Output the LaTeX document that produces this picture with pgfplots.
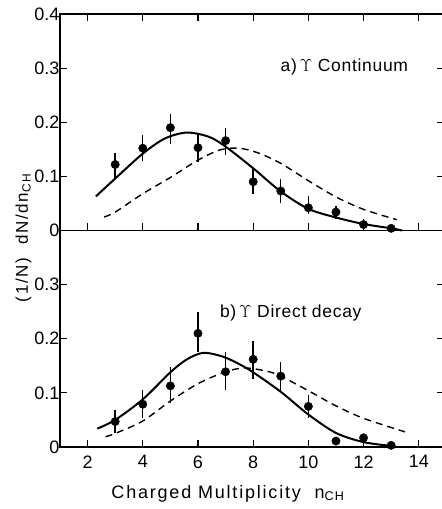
\documentclass[border=0pt]{standalone}
\usepackage{fontspec}
\setmainfont{Liberation Sans}
\usepackage{pgfplots}
\pgfplotsset{compat=1.18}

\pgfplotstableread{
x y ep em
3 0.122 0.022 0.026
4 0.152 0.025 0.024
5 0.190 0.026 0.030
6 0.153 0.026 0.027
7 0.166 0.024 0.026
8 0.090 0.024 0.022
9 0.073 0.023 0.023
10 0.042 0.021 0.012
11 0.034 0.012 0.012
12 0.011 0.011 0.007
13 0.004 0 0
}\contdata

\pgfplotstableread{
x y ep em
3 0.047 0.022 0.021
4 0.079 0.027 0.025
5 0.113 0.034 0.031
6 0.210 0.040 0.035
7 0.139 0.036 0.033
8 0.162 0.034 0.037
9 0.131 0.026 0.028
10 0.075 0.021 0.021
11 0.011 0 0
12 0.017 0 0
13 0.003 0 0
}\directdata

\begin{document}
\begin{tikzpicture}
\pgfplotsset{
  panel/.style={
    scale only axis, width=383.6pt, height=216.5pt,
    anchor=south west,
    xmin=1, xmax=14.9, ymin=0, ymax=0.4,
    xtick={2,4,...,14},
    axis line style={line width=1.5pt},
    major tick style={line width=1.2pt, black},
    major tick length=7pt,
    tick label style={font=\fontsize{18}{21}\selectfont, /pgf/number format/assume math mode=true},
    yticklabel style={xshift=3pt},
    xticklabel style={yshift=-5pt},
    clip=false,
  },
  dat/.style={only marks, mark=*, mark size=4.2pt, black,
    error bars/.cd, y dir=both, y explicit, error mark=none,
    error bar style={line width=1.4pt}},
  fit/.style={line width=2pt, smooth, black, no marks},
  alt/.style={line width=1.4pt, smooth, black, no marks, dash pattern=on 7pt off 5pt},
}
\path[use as bounding box] (-60pt,-62pt) rectangle (382pt,447pt);

% b) direct decay
\begin{axis}[panel, at={(0pt,0pt)}, ytick={0,0.1,0.2,0.3}, xtick pos=bottom]
\addplot[alt] coordinates {(2.65,0.019) (3,0.025) (4,0.048) (5,0.085) (6,0.117) (7,0.139) (7.7,0.146) (8.5,0.140) (9,0.131) (10,0.104) (11,0.076) (12,0.053) (13.5,0.028)};
\addplot[fit] coordinates {(2.35,0.034) (3,0.050) (4,0.088) (5,0.138) (5.6,0.162) (6.2,0.174) (6.9,0.167) (7.5,0.153) (8,0.138) (9,0.102) (10,0.060) (11,0.026) (12,0.009) (13,0.002)};
\addplot[dat] table[x=x, y=y, y error plus=ep, y error minus=em] {\directdata};
\node[anchor=base west, font=\fontsize{17.5}{20}\selectfont\addfontfeature{LetterSpace=4}] at (rel axis cs:0.408,0.6) {b)\,$\Upsilon$ Direct decay};
\end{axis}

% a) continuum
\begin{axis}[panel, at={(0pt,216.5pt)}, ytick={0,0.1,0.2,0.3,0.4}, xticklabels={}]
\addplot[alt] coordinates {(2.6,0.025) (3,0.034) (4,0.068) (5,0.098) (6,0.130) (6.8,0.149) (7.5,0.152) (8.2,0.143) (9,0.124) (10,0.092) (11,0.062) (12,0.039) (13.2,0.020)};
\addplot[fit] coordinates {(2.3,0.063) (3,0.096) (4,0.142) (4.8,0.170) (5.6,0.181) (6.4,0.173) (7,0.155) (8,0.115) (9,0.072) (10,0.040) (11,0.024) (12,0.012) (13,0.004) (13.4,0.0)};
\addplot[dat] table[x=x, y=y, y error plus=ep, y error minus=em] {\contdata};
\node[anchor=base west, font=\fontsize{17.5}{20}\selectfont\addfontfeature{LetterSpace=4}] at (rel axis cs:0.566,0.735) {a)\,$\Upsilon$ Continuum};
\end{axis}

\node[rotate=90, anchor=base, font=\fontsize{17}{20}\selectfont\addfontfeature{LetterSpace=10}] at (-32pt,209pt) {(1/N)\ \ dN/dn\textsubscript{CH}};
\node[anchor=base, font=\fontsize{18}{21}\selectfont\addfontfeature{LetterSpace=10}] at (168pt,-51pt) {Charged Multiplicity\ \ n\textsubscript{CH}};
\end{tikzpicture}
\end{document}
